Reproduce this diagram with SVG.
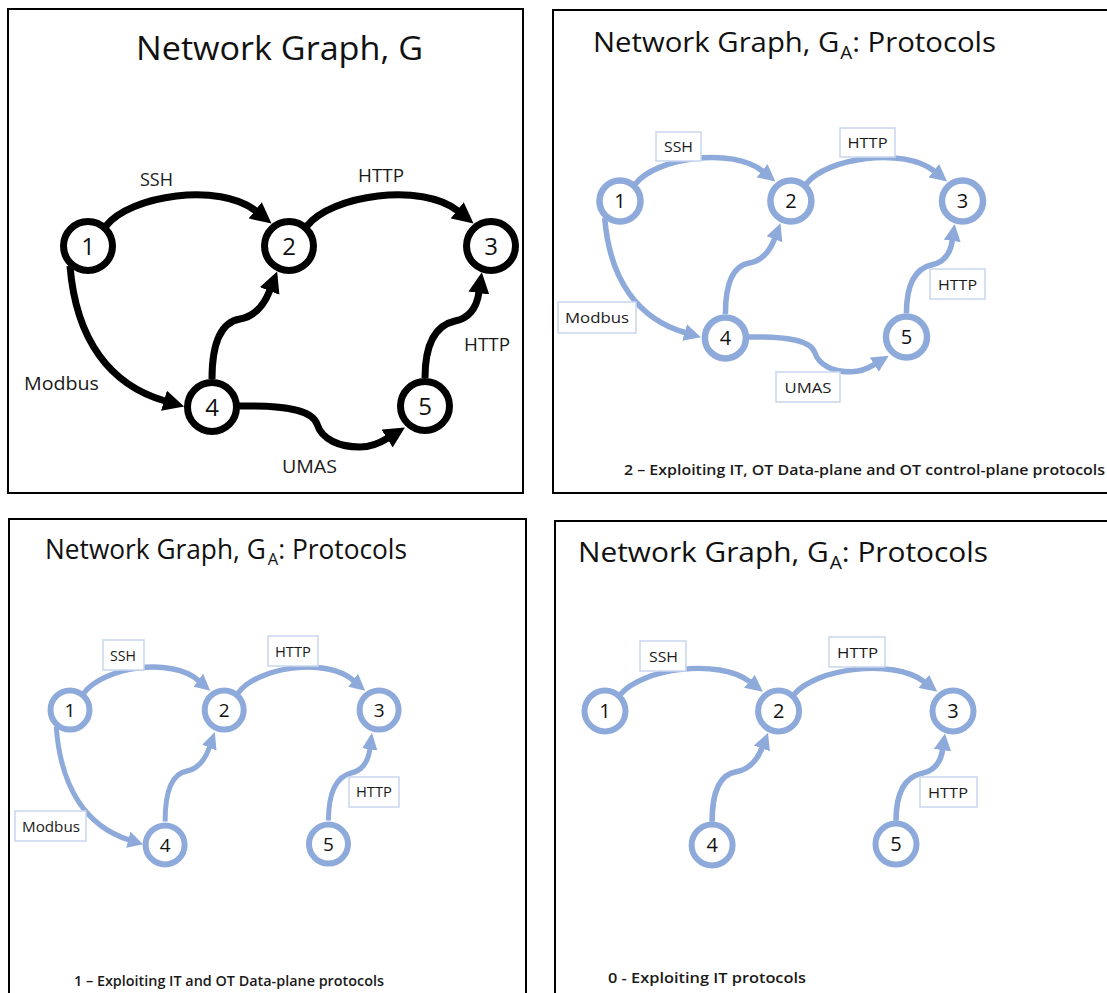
<svg xmlns="http://www.w3.org/2000/svg" width="1107" height="993" viewBox="0 0 1107 993">
<defs>
<style>
.panel{fill:#fff;stroke:#000;stroke-width:2}
.title{font-family:"Open Sans","Liberation Sans",sans-serif;fill:#111}
.ek{fill:none;stroke:#000;stroke-width:7;marker-end:url(#ak)}
.eb{fill:none;stroke:#8eaadb;stroke-width:6.5;marker-end:url(#ab)}
.nk{fill:#fff;stroke:#000;stroke-width:7}
.nb{fill:#fff;stroke:#8eaadb;stroke-width:6.5}
.num{font-family:"Open Sans","Liberation Sans",sans-serif;text-anchor:middle;fill:#111}
.lbl{font-family:"Open Sans","Liberation Sans",sans-serif;fill:#1a1a1a}
.box{fill:#fff;stroke:#c9d6ef;stroke-width:1.5}
.cap{font-family:"Open Sans","Liberation Sans",sans-serif;fill:#1a1a1a;font-size:15px;font-weight:600}
</style>
<marker id="ak" viewBox="0 0 20 20" markerWidth="21" markerHeight="21" markerUnits="userSpaceOnUse" refX="1" refY="10" orient="auto"><path d="M0,0 L20,10 L0,20 z" fill="#000"/></marker>
<marker id="ab" viewBox="0 0 20 20" markerWidth="20" markerHeight="20" markerUnits="userSpaceOnUse" refX="1" refY="10" orient="auto"><path d="M0,0 L20,10 L0,20 z" fill="#8eaadb"/></marker>
</defs>
<rect width="1107" height="993" fill="#fff"/>

<!-- Panel frames -->
<g id="frames">
<rect class="panel" x="8" y="9" width="515" height="484"/>
<rect class="panel" x="553" y="10" width="600" height="483"/>
<rect class="panel" x="9" y="519" width="517" height="500"/>
<rect class="panel" x="555" y="521" width="600" height="500"/>
</g>

<!-- Panel 1 -->
<text class="title" x="136" y="60" font-size="33" textLength="287" lengthAdjust="spacingAndGlyphs">Network Graph, G</text>
<g id="p1-connectors">
<path class="ek" d="M 106,226 C 130,195 220,182 256,211"/>
<path class="ek" d="M 307,226 C 331,195 422,182 458,211"/>
<path class="ek" d="M 70,266 C 76,340 110,385 165,401"/>
<path class="ek" d="M 212,379 C 212,340 222,322 240,319 C 257,316 265,303 270,290"/>
<path class="ek" d="M 239,406 C 285,405 312,410 317,424 C 322,440 340,447 360,447 C 372,447 380,443 388,438"/>
<path class="ek" d="M 425,378 C 425,342 437,325 455,321 C 470,318 477,306 479,292"/>
<text class="lbl" x="140" y="186" font-size="18" textLength="33" lengthAdjust="spacingAndGlyphs">SSH</text>
<text class="lbl" x="358" y="182" font-size="18" textLength="46" lengthAdjust="spacingAndGlyphs">HTTP</text>
<text class="lbl" x="24" y="390" font-size="18" textLength="75" lengthAdjust="spacingAndGlyphs">Modbus</text>
<text class="lbl" x="464" y="351" font-size="18" textLength="46" lengthAdjust="spacingAndGlyphs">HTTP</text>
<text class="lbl" x="282" y="473" font-size="18" textLength="55" lengthAdjust="spacingAndGlyphs">UMAS</text>
</g>
<g id="p1-n1"><circle class="nk" cx="88" cy="246" r="24.5"/><text class="num" x="88" y="254.5" font-size="24">1</text></g>
<g id="p1-n2"><circle class="nk" cx="289" cy="246" r="24.5"/><text class="num" x="289" y="254.5" font-size="24">2</text></g>
<g id="p1-n3"><circle class="nk" cx="491" cy="246" r="24.5"/><text class="num" x="491" y="254.5" font-size="24">3</text></g>
<g id="p1-n4"><circle class="nk" cx="212" cy="407" r="24.5"/><text class="num" x="212" y="415.5" font-size="24">4</text></g>
<g id="p1-n5"><circle class="nk" cx="425" cy="406" r="24.5"/><text class="num" x="425" y="414.5" font-size="24">5</text></g>

<!-- Panel 2 -->
<text class="title" x="593" y="52" font-size="28" textLength="403" lengthAdjust="spacingAndGlyphs">Network Graph, G<tspan font-size="18" dx="1" dy="7">A</tspan><tspan dy="-7">: Protocols</tspan></text>
<g id="p2-connectors">
<g transform="matrix(0.85 0 0 0.85 545.2 -8.1)">
<path class="eb" d="M 106,226 C 130,195 220,182 256,211"/>
<path class="eb" d="M 307,226 C 331,195 422,182 458,211"/>
<path class="eb" d="M 70,266 C 76,340 110,385 165,401"/>
<path class="eb" d="M 212,379 C 212,340 222,322 240,319 C 257,316 265,303 270,290"/>
<path class="eb" d="M 239,406 C 285,405 312,410 317,424 C 322,440 340,447 360,447 C 372,447 380,443 388,438"/>
<path class="eb" d="M 425,378 C 425,342 437,325 455,321 C 470,318 477,306 479,292"/>
</g>
<rect class="box" x="656" y="132" width="45" height="29"/>
<text class="lbl" x="664" y="152" font-size="15" textLength="29" lengthAdjust="spacingAndGlyphs">SSH</text>
<rect class="box" x="840" y="128" width="55" height="29"/>
<text class="lbl" x="847.5" y="148" font-size="15" textLength="40" lengthAdjust="spacingAndGlyphs">HTTP</text>
<rect class="box" x="558" y="302" width="78" height="31"/>
<text class="lbl" x="565" y="323" font-size="15" textLength="64" lengthAdjust="spacingAndGlyphs">Modbus</text>
<rect class="box" x="930" y="269" width="55" height="30"/>
<text class="lbl" x="938" y="290" font-size="15" textLength="39" lengthAdjust="spacingAndGlyphs">HTTP</text>
<rect class="box" x="776" y="372" width="64" height="30"/>
<text class="lbl" x="784.5" y="393" font-size="15" textLength="47" lengthAdjust="spacingAndGlyphs">UMAS</text>
</g>
<g id="p2-n1"><circle class="nb" cx="620" cy="201" r="20.5"/><text class="num" x="620" y="208" font-size="20">1</text></g>
<g id="p2-n2"><circle class="nb" cx="790.9" cy="201" r="20.5"/><text class="num" x="790.9" y="208" font-size="20">2</text></g>
<g id="p2-n3"><circle class="nb" cx="962.5" cy="201" r="20.5"/><text class="num" x="962.5" y="208" font-size="20">3</text></g>
<g id="p2-n4"><circle class="nb" cx="725.4" cy="337.9" r="20.5"/><text class="num" x="725.4" y="344.9" font-size="20">4</text></g>
<g id="p2-n5"><circle class="nb" cx="906.5" cy="337" r="20.5"/><text class="num" x="906.5" y="344" font-size="20">5</text></g>
<text class="cap" x="624" y="475" textLength="481" lengthAdjust="spacingAndGlyphs">2 – Exploiting IT, OT Data-plane and OT control-plane protocols</text>

<!-- Panel 3 -->
<text class="title" x="45" y="559" font-size="27" textLength="362" lengthAdjust="spacingAndGlyphs">Network Graph, G<tspan font-size="17" dx="2" dy="6">A</tspan><tspan dy="-6">: Protocols</tspan></text>
<g id="p3-connectors">
<g transform="matrix(0.767 0 0 0.838 2.504 503.852)">
<path class="eb" d="M 106,226 C 130,195 220,182 256,211"/>
<path class="eb" d="M 307,226 C 331,195 422,182 458,211"/>
<path class="eb" d="M 70,266 C 76,340 110,385 165,401"/>
<path class="eb" d="M 212,379 C 212,340 222,322 240,319 C 257,316 265,303 270,290"/>
<path class="eb" d="M 425,378 C 425,342 437,325 455,321 C 470,318 477,306 479,292"/>
</g>
<rect class="box" x="103" y="640" width="41" height="30"/>
<text class="lbl" x="110" y="661" font-size="14" textLength="26" lengthAdjust="spacingAndGlyphs">SSH</text>
<rect class="box" x="268" y="636" width="50" height="30"/>
<text class="lbl" x="275" y="657" font-size="14" textLength="36" lengthAdjust="spacingAndGlyphs">HTTP</text>
<rect class="box" x="15" y="811" width="71" height="30"/>
<text class="lbl" x="22" y="832" font-size="14" textLength="58" lengthAdjust="spacingAndGlyphs">Modbus</text>
<rect class="box" x="349" y="777" width="50" height="30"/>
<text class="lbl" x="356" y="797" font-size="14" textLength="36" lengthAdjust="spacingAndGlyphs">HTTP</text>
</g>
<g id="p3-n1"><circle class="nb" cx="70" cy="710" r="19.5" style="stroke-width:6"/><text class="num" x="70" y="717" font-size="19">1</text></g>
<g id="p3-n2"><circle class="nb" cx="224.2" cy="710" r="19.5" style="stroke-width:6"/><text class="num" x="224.2" y="717" font-size="19">2</text></g>
<g id="p3-n3"><circle class="nb" cx="379.1" cy="710" r="19.5" style="stroke-width:6"/><text class="num" x="379.1" y="717" font-size="19">3</text></g>
<g id="p3-n4"><circle class="nb" cx="165.1" cy="844.9" r="19.5" style="stroke-width:6"/><text class="num" x="165.1" y="851.9" font-size="19">4</text></g>
<g id="p3-n5"><circle class="nb" cx="328.5" cy="844.1" r="19.5" style="stroke-width:6"/><text class="num" x="328.5" y="851.1" font-size="19">5</text></g>
<text class="cap" x="74" y="986" textLength="310" lengthAdjust="spacingAndGlyphs">1 – Exploiting IT and OT Data-plane protocols</text>

<!-- Panel 4 -->
<text class="title" x="578" y="562" font-size="28" textLength="410" lengthAdjust="spacingAndGlyphs">Network Graph, G<tspan font-size="18" dx="1" dy="7">A</tspan><tspan dy="-7">: Protocols</tspan></text>
<g id="p4-connectors">
<g transform="matrix(0.8635 0 0 0.832 529.012 506.328)">
<path class="eb" d="M 106,226 C 130,195 220,182 256,211"/>
<path class="eb" d="M 307,226 C 331,195 422,182 458,211"/>
<path class="eb" d="M 212,379 C 212,340 222,322 240,319 C 257,316 265,303 270,290"/>
<path class="eb" d="M 425,378 C 425,342 437,325 455,321 C 470,318 477,306 479,292"/>
</g>
<rect class="box" x="640" y="641" width="46" height="30"/>
<text class="lbl" x="649" y="662" font-size="15" textLength="29" lengthAdjust="spacingAndGlyphs">SSH</text>
<rect class="box" x="829" y="637" width="56" height="30"/>
<text class="lbl" x="837" y="658" font-size="15" textLength="41" lengthAdjust="spacingAndGlyphs">HTTP</text>
<rect class="box" x="920" y="777" width="57" height="30"/>
<text class="lbl" x="928" y="798" font-size="15" textLength="40" lengthAdjust="spacingAndGlyphs">HTTP</text>
</g>
<g id="p4-n1"><circle class="nb" cx="605" cy="711" r="20.5" style="stroke-width:6"/><text class="num" x="605" y="718" font-size="20">1</text></g>
<g id="p4-n2"><circle class="nb" cx="778.6" cy="711" r="20.5" style="stroke-width:6"/><text class="num" x="778.6" y="718" font-size="20">2</text></g>
<g id="p4-n3"><circle class="nb" cx="953" cy="711" r="20.5" style="stroke-width:6"/><text class="num" x="953" y="718" font-size="20">3</text></g>
<g id="p4-n4"><circle class="nb" cx="712.1" cy="845" r="20.5" style="stroke-width:6"/><text class="num" x="712.1" y="852" font-size="20">4</text></g>
<g id="p4-n5"><circle class="nb" cx="896" cy="844.1" r="20.5" style="stroke-width:6"/><text class="num" x="896" y="851.1" font-size="20">5</text></g>
<text class="cap" x="608" y="983" textLength="198" lengthAdjust="spacingAndGlyphs">0 - Exploiting IT protocols</text>
</svg>
